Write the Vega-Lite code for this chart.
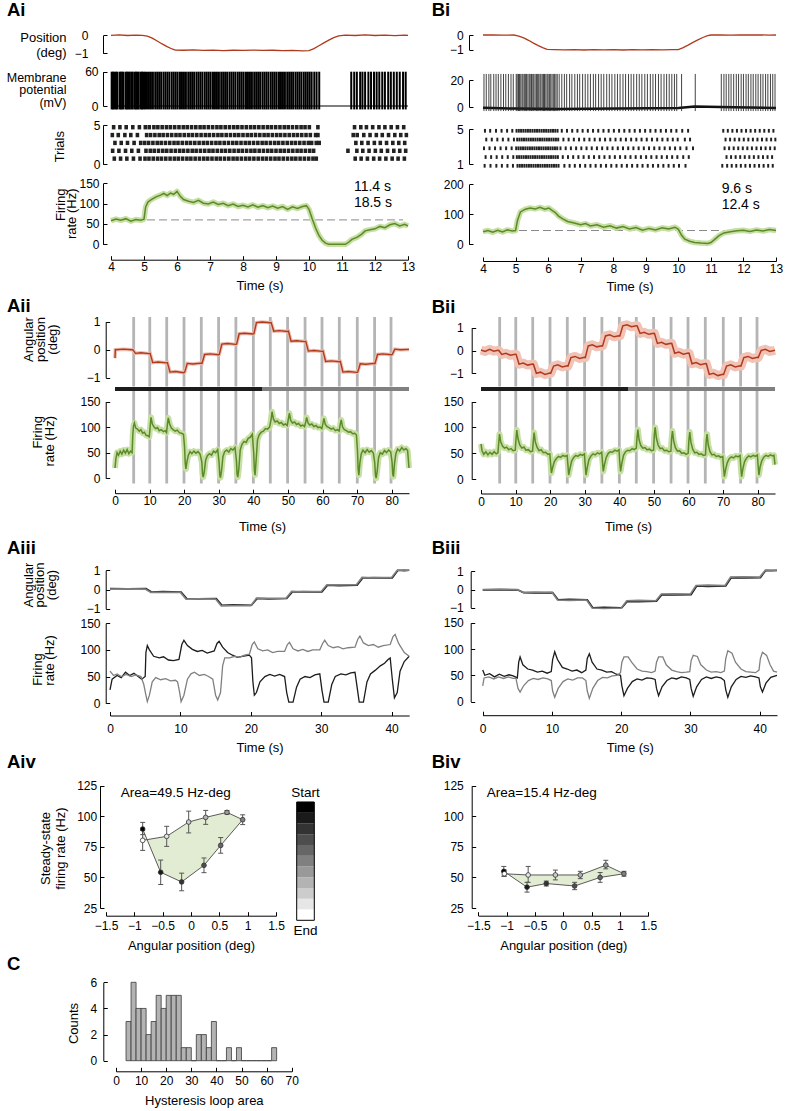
{
"$schema": "https://vega.github.io/schema/vega-lite/v6.json",
"padding": 0,
"background": "white",
"spacing": 0,
"bounds": "full",
"config": {
  "font": "Liberation Sans",
  "view": {"stroke": null},
  "axis": {"grid": false, "domainColor": "#000", "tickColor": "#000", "labelColor": "#000", "titleColor": "#000", "labelFontSize": 12, "titleFontSize": 13, "titleFontWeight": "normal", "tickSize": -4, "labelPadding": 8, "labelOverlap": false, "labelFlush": false, "titlePadding": 8, "tickCount": 12},
  "title": {"fontSize": 18.5, "fontWeight": "bold", "anchor": "start", "frame": "group", "color": "#000", "baseline": "alphabetic"}
},
"datasets": {
  "aipos": [{"t":4,"v":0},{"t":4.25,"v":0.02},{"t":4.5,"v":-0.01},{"t":4.75,"v":0.01},{"t":4.95,"v":0},{"t":5.1,"v":-0.05},{"t":5.25,"v":-0.16},{"t":5.4,"v":-0.32},{"t":5.55,"v":-0.48},{"t":5.7,"v":-0.63},{"t":5.85,"v":-0.76},{"t":5.95,"v":-0.82},{"t":6.2,"v":-0.83},{"t":6.5,"v":-0.81},{"t":6.8,"v":-0.84},{"t":7.1,"v":-0.82},{"t":7.4,"v":-0.85},{"t":7.7,"v":-0.83},{"t":8,"v":-0.84},{"t":8.3,"v":-0.82},{"t":8.6,"v":-0.84},{"t":8.9,"v":-0.83},{"t":9.2,"v":-0.85},{"t":9.5,"v":-0.84},{"t":9.8,"v":-0.87},{"t":10,"v":-0.85},{"t":10.15,"v":-0.74},{"t":10.3,"v":-0.58},{"t":10.45,"v":-0.42},{"t":10.6,"v":-0.27},{"t":10.75,"v":-0.13},{"t":10.9,"v":-0.03},{"t":11.1,"v":0.01},{"t":11.4,"v":-0.01},{"t":11.7,"v":0.02},{"t":12,"v":-0.01},{"t":12.3,"v":0.01},{"t":12.6,"v":-0.02},{"t":12.9,"v":0.01},{"t":13,"v":0}],
  "aibase": [{"t":4,"v":0},{"t":13,"v":0}],
  "aimem": [{"t":4.02},{"t":4.06},{"t":4.1},{"t":4.15},{"t":4.19},{"t":4.26},{"t":4.3},{"t":4.34},{"t":4.38},{"t":4.45},{"t":4.49},{"t":4.53},{"t":4.57},{"t":4.62},{"t":4.66},{"t":4.72},{"t":4.76},{"t":4.8},{"t":4.84},{"t":4.9},{"t":4.94},{"t":4.98},{"t":5.03},{"t":5.09},{"t":5.15},{"t":5.21},{"t":5.27},{"t":5.34},{"t":5.4},{"t":5.46},{"t":5.52},{"t":5.59},{"t":5.65},{"t":5.71},{"t":5.77},{"t":5.84},{"t":5.9},{"t":5.96},{"t":6.02},{"t":6.09},{"t":6.15},{"t":6.21},{"t":6.27},{"t":6.34},{"t":6.4},{"t":6.46},{"t":6.52},{"t":6.59},{"t":6.65},{"t":6.71},{"t":6.77},{"t":6.84},{"t":6.9},{"t":6.96},{"t":7.02},{"t":7.09},{"t":7.15},{"t":7.21},{"t":7.27},{"t":7.34},{"t":7.4},{"t":7.46},{"t":7.52},{"t":7.59},{"t":7.65},{"t":7.71},{"t":7.77},{"t":7.84},{"t":7.9},{"t":7.96},{"t":8.02},{"t":8.09},{"t":8.15},{"t":8.21},{"t":8.27},{"t":8.34},{"t":8.4},{"t":8.46},{"t":8.52},{"t":8.59},{"t":8.65},{"t":8.71},{"t":8.77},{"t":8.84},{"t":8.9},{"t":8.96},{"t":9.02},{"t":9.09},{"t":9.15},{"t":9.21},{"t":9.27},{"t":9.34},{"t":9.4},{"t":9.46},{"t":9.52},{"t":9.59},{"t":9.65},{"t":9.71},{"t":9.77},{"t":9.84},{"t":9.9},{"t":9.96},{"t":10.02},{"t":10.08},{"t":10.16},{"t":10.23},{"t":10.31},{"t":11.28},{"t":11.37},{"t":11.45},{"t":11.55},{"t":11.62},{"t":11.7},{"t":11.8},{"t":11.88},{"t":11.97},{"t":12.05},{"t":12.13},{"t":12.22},{"t":12.3},{"t":12.4},{"t":12.48},{"t":12.57},{"t":12.66},{"t":12.75},{"t":12.85},{"t":12.93}],
  "airas": [
    {"k":5,"t":4.08},{"k":5,"t":4.27},{"k":5,"t":4.46},{"k":5,"t":4.66},{"k":5,"t":4.86},{"k":5,"t":5.04},{"k":5,"t":5.16},{"k":5,"t":5.3},{"k":5,"t":5.42},{"k":5,"t":5.55},{"k":5,"t":5.68},{"k":5,"t":5.8},{"k":5,"t":5.93},{"k":5,"t":6.06},{"k":5,"t":6.19},{"k":5,"t":6.31},{"k":5,"t":6.44},{"k":5,"t":6.57},{"k":5,"t":6.7},{"k":5,"t":6.82},{"k":5,"t":6.95},{"k":5,"t":7.08},{"k":5,"t":7.21},{"k":5,"t":7.33},{"k":5,"t":7.46},{"k":5,"t":7.59},{"k":5,"t":7.72},{"k":5,"t":7.84},{"k":5,"t":7.97},{"k":5,"t":8.1},{"k":5,"t":8.23},{"k":5,"t":8.35},{"k":5,"t":8.48},{"k":5,"t":8.61},{"k":5,"t":8.74},{"k":5,"t":8.86},{"k":5,"t":8.99},{"k":5,"t":9.12},{"k":5,"t":9.25},{"k":5,"t":9.37},{"k":5,"t":9.5},{"k":5,"t":9.63},{"k":5,"t":9.76},{"k":5,"t":9.88},{"k":5,"t":10.01},{"k":5,"t":10.27},{"k":5,"t":11.38},{"k":5,"t":11.57},{"k":5,"t":11.74},{"k":5,"t":11.93},{"k":5,"t":12.12},{"k":5,"t":12.3},{"k":5,"t":12.49},{"k":5,"t":12.68},{"k":5,"t":12.87},
    {"k":4,"t":4.04},{"k":4,"t":4.22},{"k":4,"t":4.42},{"k":4,"t":4.6},{"k":4,"t":4.8},{"k":4,"t":5.08},{"k":4,"t":5.2},{"k":4,"t":5.33},{"k":4,"t":5.46},{"k":4,"t":5.58},{"k":4,"t":5.71},{"k":4,"t":5.84},{"k":4,"t":5.97},{"k":4,"t":6.09},{"k":4,"t":6.22},{"k":4,"t":6.35},{"k":4,"t":6.47},{"k":4,"t":6.6},{"k":4,"t":6.73},{"k":4,"t":6.86},{"k":4,"t":6.98},{"k":4,"t":7.11},{"k":4,"t":7.24},{"k":4,"t":7.36},{"k":4,"t":7.49},{"k":4,"t":7.62},{"k":4,"t":7.75},{"k":4,"t":7.87},{"k":4,"t":8},{"k":4,"t":8.13},{"k":4,"t":8.25},{"k":4,"t":8.38},{"k":4,"t":8.51},{"k":4,"t":8.64},{"k":4,"t":8.76},{"k":4,"t":8.89},{"k":4,"t":9.02},{"k":4,"t":9.14},{"k":4,"t":9.27},{"k":4,"t":9.4},{"k":4,"t":9.53},{"k":4,"t":9.65},{"k":4,"t":9.78},{"k":4,"t":9.91},{"k":4,"t":10.04},{"k":4,"t":10.2},{"k":4,"t":10.27},{"k":4,"t":11.34},{"k":4,"t":11.46},{"k":4,"t":11.66},{"k":4,"t":11.85},{"k":4,"t":12.04},{"k":4,"t":12.22},{"k":4,"t":12.41},{"k":4,"t":12.6},{"k":4,"t":12.78},{"k":4,"t":12.95},
    {"k":3,"t":4.12},{"k":3,"t":4.31},{"k":3,"t":4.5},{"k":3,"t":4.7},{"k":3,"t":4.9},{"k":3,"t":5.02},{"k":3,"t":5.14},{"k":3,"t":5.27},{"k":3,"t":5.4},{"k":3,"t":5.52},{"k":3,"t":5.65},{"k":3,"t":5.78},{"k":3,"t":5.91},{"k":3,"t":6.03},{"k":3,"t":6.16},{"k":3,"t":6.29},{"k":3,"t":6.41},{"k":3,"t":6.54},{"k":3,"t":6.67},{"k":3,"t":6.8},{"k":3,"t":6.92},{"k":3,"t":7.05},{"k":3,"t":7.18},{"k":3,"t":7.3},{"k":3,"t":7.43},{"k":3,"t":7.56},{"k":3,"t":7.69},{"k":3,"t":7.81},{"k":3,"t":7.94},{"k":3,"t":8.07},{"k":3,"t":8.19},{"k":3,"t":8.32},{"k":3,"t":8.45},{"k":3,"t":8.58},{"k":3,"t":8.7},{"k":3,"t":8.83},{"k":3,"t":8.96},{"k":3,"t":9.08},{"k":3,"t":9.21},{"k":3,"t":9.34},{"k":3,"t":9.47},{"k":3,"t":9.59},{"k":3,"t":9.72},{"k":3,"t":9.85},{"k":3,"t":9.98},{"k":3,"t":10.08},{"k":3,"t":10.22},{"k":3,"t":10.31},{"k":3,"t":11.42},{"k":3,"t":11.6},{"k":3,"t":11.79},{"k":3,"t":11.98},{"k":3,"t":12.16},{"k":3,"t":12.35},{"k":3,"t":12.54},{"k":3,"t":12.72},{"k":3,"t":12.9},
    {"k":2,"t":4.05},{"k":2,"t":4.24},{"k":2,"t":4.44},{"k":2,"t":4.63},{"k":2,"t":4.83},{"k":2,"t":5.06},{"k":2,"t":5.19},{"k":2,"t":5.31},{"k":2,"t":5.44},{"k":2,"t":5.57},{"k":2,"t":5.69},{"k":2,"t":5.82},{"k":2,"t":5.95},{"k":2,"t":6.08},{"k":2,"t":6.2},{"k":2,"t":6.33},{"k":2,"t":6.46},{"k":2,"t":6.58},{"k":2,"t":6.71},{"k":2,"t":6.84},{"k":2,"t":6.97},{"k":2,"t":7.09},{"k":2,"t":7.22},{"k":2,"t":7.35},{"k":2,"t":7.47},{"k":2,"t":7.6},{"k":2,"t":7.73},{"k":2,"t":7.86},{"k":2,"t":7.98},{"k":2,"t":8.11},{"k":2,"t":8.24},{"k":2,"t":8.36},{"k":2,"t":8.49},{"k":2,"t":8.62},{"k":2,"t":8.75},{"k":2,"t":8.87},{"k":2,"t":9},{"k":2,"t":9.13},{"k":2,"t":9.25},{"k":2,"t":9.38},{"k":2,"t":9.51},{"k":2,"t":9.64},{"k":2,"t":9.76},{"k":2,"t":9.89},{"k":2,"t":10.02},{"k":2,"t":10.14},{"k":2,"t":11.18},{"k":2,"t":11.45},{"k":2,"t":11.63},{"k":2,"t":11.82},{"k":2,"t":12.01},{"k":2,"t":12.19},{"k":2,"t":12.38},{"k":2,"t":12.57},{"k":2,"t":12.75},{"k":2,"t":12.93},
    {"k":1,"t":4.1},{"k":1,"t":4.29},{"k":1,"t":4.48},{"k":1,"t":4.68},{"k":1,"t":4.88},{"k":1,"t":5.03},{"k":1,"t":5.15},{"k":1,"t":5.28},{"k":1,"t":5.41},{"k":1,"t":5.53},{"k":1,"t":5.66},{"k":1,"t":5.79},{"k":1,"t":5.92},{"k":1,"t":6.04},{"k":1,"t":6.17},{"k":1,"t":6.3},{"k":1,"t":6.42},{"k":1,"t":6.55},{"k":1,"t":6.68},{"k":1,"t":6.81},{"k":1,"t":6.93},{"k":1,"t":7.06},{"k":1,"t":7.19},{"k":1,"t":7.31},{"k":1,"t":7.44},{"k":1,"t":7.57},{"k":1,"t":7.7},{"k":1,"t":7.82},{"k":1,"t":7.95},{"k":1,"t":8.08},{"k":1,"t":8.2},{"k":1,"t":8.33},{"k":1,"t":8.46},{"k":1,"t":8.59},{"k":1,"t":8.71},{"k":1,"t":8.84},{"k":1,"t":8.97},{"k":1,"t":9.09},{"k":1,"t":9.22},{"k":1,"t":9.35},{"k":1,"t":9.48},{"k":1,"t":9.6},{"k":1,"t":9.73},{"k":1,"t":9.86},{"k":1,"t":9.99},{"k":1,"t":10.12},{"k":1,"t":10.22},{"k":1,"t":11.4},{"k":1,"t":11.58},{"k":1,"t":11.77},{"k":1,"t":11.96},{"k":1,"t":12.14},{"k":1,"t":12.33},{"k":1,"t":12.52},{"k":1,"t":12.7},{"k":1,"t":12.89}],
  "aifr": [{"t":4,"v":58},{"t":4.15,"v":62},{"t":4.3,"v":59},{"t":4.45,"v":63},{"t":4.6,"v":57},{"t":4.75,"v":61},{"t":4.9,"v":59},{"t":5,"v":62},{"t":5.05,"v":92},{"t":5.12,"v":104},{"t":5.22,"v":110},{"t":5.35,"v":116},{"t":5.5,"v":121},{"t":5.6,"v":125},{"t":5.7,"v":120},{"t":5.8,"v":126},{"t":5.9,"v":123},{"t":6,"v":130},{"t":6.1,"v":118},{"t":6.2,"v":110},{"t":6.35,"v":106},{"t":6.5,"v":103},{"t":6.65,"v":108},{"t":6.8,"v":101},{"t":6.95,"v":99},{"t":7.1,"v":104},{"t":7.25,"v":98},{"t":7.4,"v":101},{"t":7.55,"v":95},{"t":7.7,"v":99},{"t":7.85,"v":93},{"t":8,"v":96},{"t":8.15,"v":92},{"t":8.3,"v":97},{"t":8.45,"v":91},{"t":8.6,"v":95},{"t":8.75,"v":90},{"t":8.9,"v":94},{"t":9.05,"v":89},{"t":9.2,"v":93},{"t":9.35,"v":86},{"t":9.5,"v":92},{"t":9.65,"v":88},{"t":9.8,"v":93},{"t":9.92,"v":95},{"t":10,"v":86},{"t":10.1,"v":62},{"t":10.2,"v":40},{"t":10.3,"v":22},{"t":10.4,"v":10},{"t":10.5,"v":3},{"t":10.6,"v":0},{"t":11.1,"v":0},{"t":11.2,"v":5},{"t":11.3,"v":12},{"t":11.45,"v":17},{"t":11.6,"v":25},{"t":11.7,"v":33},{"t":11.85,"v":36},{"t":12,"v":38},{"t":12.15,"v":44},{"t":12.3,"v":41},{"t":12.45,"v":48},{"t":12.6,"v":51},{"t":12.75,"v":45},{"t":12.9,"v":49},{"t":13,"v":45}],
  "bipos": [{"t":4,"v":0},{"t":4.3,"v":0.01},{"t":4.6,"v":-0.01},{"t":4.95,"v":0},{"t":5.1,"v":-0.07},{"t":5.25,"v":-0.2},{"t":5.4,"v":-0.36},{"t":5.55,"v":-0.55},{"t":5.7,"v":-0.72},{"t":5.85,"v":-0.88},{"t":5.97,"v":-0.98},{"t":6.2,"v":-0.99},{"t":6.5,"v":-1.01},{"t":6.8,"v":-0.99},{"t":7.1,"v":-1.02},{"t":7.4,"v":-1},{"t":7.7,"v":-1.01},{"t":8,"v":-0.99},{"t":8.3,"v":-1.02},{"t":8.6,"v":-1},{"t":8.9,"v":-1.01},{"t":9.2,"v":-0.99},{"t":9.5,"v":-1.01},{"t":9.8,"v":-1},{"t":10,"v":-0.99},{"t":10.15,"v":-0.86},{"t":10.3,"v":-0.69},{"t":10.45,"v":-0.5},{"t":10.6,"v":-0.33},{"t":10.75,"v":-0.17},{"t":10.9,"v":-0.05},{"t":11,"v":0},{"t":11.3,"v":0.01},{"t":11.6,"v":-0.01},{"t":11.9,"v":0.01},{"t":12.2,"v":0},{"t":12.5,"v":0.01},{"t":12.8,"v":-0.01},{"t":13,"v":0}],
  "bibase": [{"t":4,"v":-0.5},{"t":5,"v":-1.2},{"t":6.3,"v":-1.5},{"t":10,"v":-0.8},{"t":10.5,"v":0.3},{"t":11.3,"v":0},{"t":13,"v":-0.8}],
  "bimem": [{"t":4.03},{"t":4.1},{"t":4.18},{"t":4.24},{"t":4.33},{"t":4.4},{"t":4.47},{"t":4.55},{"t":4.63},{"t":4.7},{"t":4.78},{"t":4.86},{"t":4.93},{"t":5.02},{"t":5.05},{"t":5.09},{"t":5.12},{"t":5.16},{"t":5.2},{"t":5.23},{"t":5.27},{"t":5.31},{"t":5.34},{"t":5.38},{"t":5.42},{"t":5.45},{"t":5.49},{"t":5.53},{"t":5.56},{"t":5.6},{"t":5.64},{"t":5.67},{"t":5.71},{"t":5.75},{"t":5.78},{"t":5.82},{"t":5.86},{"t":5.89},{"t":5.93},{"t":5.97},{"t":6},{"t":6.04},{"t":6.08},{"t":6.12},{"t":6.16},{"t":6.2},{"t":6.24},{"t":6.28},{"t":6.34},{"t":6.42},{"t":6.5},{"t":6.57},{"t":6.66},{"t":6.73},{"t":6.82},{"t":6.9},{"t":6.97},{"t":7.06},{"t":7.14},{"t":7.22},{"t":7.3},{"t":7.39},{"t":7.46},{"t":7.55},{"t":7.63},{"t":7.71},{"t":7.8},{"t":7.88},{"t":7.96},{"t":8.05},{"t":8.13},{"t":8.21},{"t":8.3},{"t":8.38},{"t":8.47},{"t":8.55},{"t":8.63},{"t":8.72},{"t":8.8},{"t":8.88},{"t":8.97},{"t":9.05},{"t":9.14},{"t":9.22},{"t":9.3},{"t":9.39},{"t":9.47},{"t":9.56},{"t":9.64},{"t":9.72},{"t":9.8},{"t":9.88},{"t":9.95},{"t":10.1},{"t":10.52},{"t":11.32},{"t":11.4},{"t":11.47},{"t":11.55},{"t":11.62},{"t":11.7},{"t":11.78},{"t":11.85},{"t":11.93},{"t":12},{"t":12.08},{"t":12.15},{"t":12.23},{"t":12.3},{"t":12.38},{"t":12.45},{"t":12.53},{"t":12.6},{"t":12.68},{"t":12.75},{"t":12.83},{"t":12.9},{"t":12.97}],
  "biras": [
    {"k":5,"t":4.06},{"k":5,"t":4.22},{"k":5,"t":4.4},{"k":5,"t":4.57},{"k":5,"t":4.74},{"k":5,"t":4.9},{"k":5,"t":5.03},{"k":5,"t":5.1},{"k":5,"t":5.17},{"k":5,"t":5.24},{"k":5,"t":5.31},{"k":5,"t":5.38},{"k":5,"t":5.45},{"k":5,"t":5.52},{"k":5,"t":5.59},{"k":5,"t":5.66},{"k":5,"t":5.73},{"k":5,"t":5.8},{"k":5,"t":5.87},{"k":5,"t":5.94},{"k":5,"t":6.01},{"k":5,"t":6.08},{"k":5,"t":6.15},{"k":5,"t":6.22},{"k":5,"t":6.29},{"k":5,"t":6.42},{"k":5,"t":6.58},{"k":5,"t":6.74},{"k":5,"t":6.9},{"k":5,"t":7.06},{"k":5,"t":7.22},{"k":5,"t":7.38},{"k":5,"t":7.54},{"k":5,"t":7.7},{"k":5,"t":7.86},{"k":5,"t":8.02},{"k":5,"t":8.18},{"k":5,"t":8.34},{"k":5,"t":8.5},{"k":5,"t":8.66},{"k":5,"t":8.82},{"k":5,"t":8.98},{"k":5,"t":9.14},{"k":5,"t":9.3},{"k":5,"t":9.46},{"k":5,"t":9.62},{"k":5,"t":9.78},{"k":5,"t":9.94},{"k":5,"t":10.12},{"k":5,"t":10.3},{"k":5,"t":11.38},{"k":5,"t":11.52},{"k":5,"t":11.66},{"k":5,"t":11.8},{"k":5,"t":11.94},{"k":5,"t":12.08},{"k":5,"t":12.22},{"k":5,"t":12.36},{"k":5,"t":12.5},{"k":5,"t":12.64},{"k":5,"t":12.78},{"k":5,"t":12.92},
    {"k":4,"t":4.1},{"k":4,"t":4.27},{"k":4,"t":4.44},{"k":4,"t":4.61},{"k":4,"t":4.78},{"k":4,"t":4.95},{"k":4,"t":5.05},{"k":4,"t":5.12},{"k":4,"t":5.19},{"k":4,"t":5.26},{"k":4,"t":5.33},{"k":4,"t":5.4},{"k":4,"t":5.47},{"k":4,"t":5.54},{"k":4,"t":5.61},{"k":4,"t":5.68},{"k":4,"t":5.75},{"k":4,"t":5.82},{"k":4,"t":5.89},{"k":4,"t":5.96},{"k":4,"t":6.03},{"k":4,"t":6.1},{"k":4,"t":6.17},{"k":4,"t":6.24},{"k":4,"t":6.31},{"k":4,"t":6.47},{"k":4,"t":6.63},{"k":4,"t":6.79},{"k":4,"t":6.95},{"k":4,"t":7.11},{"k":4,"t":7.27},{"k":4,"t":7.43},{"k":4,"t":7.59},{"k":4,"t":7.75},{"k":4,"t":7.91},{"k":4,"t":8.07},{"k":4,"t":8.23},{"k":4,"t":8.39},{"k":4,"t":8.55},{"k":4,"t":8.71},{"k":4,"t":8.87},{"k":4,"t":9.03},{"k":4,"t":9.19},{"k":4,"t":9.35},{"k":4,"t":9.51},{"k":4,"t":9.67},{"k":4,"t":9.83},{"k":4,"t":9.98},{"k":4,"t":10.2},{"k":4,"t":10.36},{"k":4,"t":11.45},{"k":4,"t":11.59},{"k":4,"t":11.73},{"k":4,"t":11.87},{"k":4,"t":12.01},{"k":4,"t":12.15},{"k":4,"t":12.29},{"k":4,"t":12.43},{"k":4,"t":12.57},{"k":4,"t":12.71},{"k":4,"t":12.85},{"k":4,"t":12.98},
    {"k":3,"t":4.03},{"k":3,"t":4.2},{"k":3,"t":4.37},{"k":3,"t":4.54},{"k":3,"t":4.71},{"k":3,"t":4.88},{"k":3,"t":5.02},{"k":3,"t":5.09},{"k":3,"t":5.16},{"k":3,"t":5.23},{"k":3,"t":5.3},{"k":3,"t":5.37},{"k":3,"t":5.44},{"k":3,"t":5.51},{"k":3,"t":5.58},{"k":3,"t":5.65},{"k":3,"t":5.72},{"k":3,"t":5.79},{"k":3,"t":5.86},{"k":3,"t":5.93},{"k":3,"t":6},{"k":3,"t":6.07},{"k":3,"t":6.14},{"k":3,"t":6.21},{"k":3,"t":6.28},{"k":3,"t":6.38},{"k":3,"t":6.54},{"k":3,"t":6.7},{"k":3,"t":6.86},{"k":3,"t":7.02},{"k":3,"t":7.18},{"k":3,"t":7.34},{"k":3,"t":7.5},{"k":3,"t":7.66},{"k":3,"t":7.82},{"k":3,"t":7.98},{"k":3,"t":8.14},{"k":3,"t":8.3},{"k":3,"t":8.46},{"k":3,"t":8.62},{"k":3,"t":8.78},{"k":3,"t":8.94},{"k":3,"t":9.1},{"k":3,"t":9.26},{"k":3,"t":9.42},{"k":3,"t":9.58},{"k":3,"t":9.74},{"k":3,"t":9.9},{"k":3,"t":10.06},{"k":3,"t":10.25},{"k":3,"t":10.45},{"k":3,"t":11.42},{"k":3,"t":11.56},{"k":3,"t":11.7},{"k":3,"t":11.84},{"k":3,"t":11.98},{"k":3,"t":12.12},{"k":3,"t":12.26},{"k":3,"t":12.4},{"k":3,"t":12.54},{"k":3,"t":12.68},{"k":3,"t":12.82},{"k":3,"t":12.96},
    {"k":2,"t":4.08},{"k":2,"t":4.25},{"k":2,"t":4.42},{"k":2,"t":4.59},{"k":2,"t":4.76},{"k":2,"t":4.93},{"k":2,"t":5.04},{"k":2,"t":5.11},{"k":2,"t":5.18},{"k":2,"t":5.25},{"k":2,"t":5.32},{"k":2,"t":5.39},{"k":2,"t":5.46},{"k":2,"t":5.53},{"k":2,"t":5.6},{"k":2,"t":5.67},{"k":2,"t":5.74},{"k":2,"t":5.81},{"k":2,"t":5.88},{"k":2,"t":5.95},{"k":2,"t":6.02},{"k":2,"t":6.09},{"k":2,"t":6.16},{"k":2,"t":6.23},{"k":2,"t":6.3},{"k":2,"t":6.45},{"k":2,"t":6.61},{"k":2,"t":6.77},{"k":2,"t":6.93},{"k":2,"t":7.09},{"k":2,"t":7.25},{"k":2,"t":7.41},{"k":2,"t":7.57},{"k":2,"t":7.73},{"k":2,"t":7.89},{"k":2,"t":8.05},{"k":2,"t":8.21},{"k":2,"t":8.37},{"k":2,"t":8.53},{"k":2,"t":8.69},{"k":2,"t":8.85},{"k":2,"t":9.01},{"k":2,"t":9.17},{"k":2,"t":9.33},{"k":2,"t":9.49},{"k":2,"t":9.65},{"k":2,"t":9.81},{"k":2,"t":9.97},{"k":2,"t":10.15},{"k":2,"t":10.32},{"k":2,"t":11.48},{"k":2,"t":11.62},{"k":2,"t":11.76},{"k":2,"t":11.9},{"k":2,"t":12.04},{"k":2,"t":12.18},{"k":2,"t":12.32},{"k":2,"t":12.46},{"k":2,"t":12.6},{"k":2,"t":12.74},{"k":2,"t":12.88},
    {"k":1,"t":4.05},{"k":1,"t":4.23},{"k":1,"t":4.41},{"k":1,"t":4.58},{"k":1,"t":4.75},{"k":1,"t":4.92},{"k":1,"t":5.06},{"k":1,"t":5.13},{"k":1,"t":5.2},{"k":1,"t":5.27},{"k":1,"t":5.34},{"k":1,"t":5.41},{"k":1,"t":5.48},{"k":1,"t":5.55},{"k":1,"t":5.62},{"k":1,"t":5.69},{"k":1,"t":5.76},{"k":1,"t":5.83},{"k":1,"t":5.9},{"k":1,"t":5.97},{"k":1,"t":6.04},{"k":1,"t":6.11},{"k":1,"t":6.18},{"k":1,"t":6.25},{"k":1,"t":6.32},{"k":1,"t":6.5},{"k":1,"t":6.66},{"k":1,"t":6.82},{"k":1,"t":6.98},{"k":1,"t":7.14},{"k":1,"t":7.3},{"k":1,"t":7.46},{"k":1,"t":7.62},{"k":1,"t":7.78},{"k":1,"t":7.94},{"k":1,"t":8.1},{"k":1,"t":8.26},{"k":1,"t":8.42},{"k":1,"t":8.58},{"k":1,"t":8.74},{"k":1,"t":8.9},{"k":1,"t":9.06},{"k":1,"t":9.22},{"k":1,"t":9.38},{"k":1,"t":9.54},{"k":1,"t":9.7},{"k":1,"t":9.86},{"k":1,"t":10.02},{"k":1,"t":10.22},{"k":1,"t":11.35},{"k":1,"t":11.5},{"k":1,"t":11.64},{"k":1,"t":11.78},{"k":1,"t":11.92},{"k":1,"t":12.06},{"k":1,"t":12.2},{"k":1,"t":12.34},{"k":1,"t":12.48},{"k":1,"t":12.62},{"k":1,"t":12.76},{"k":1,"t":12.9}],
  "bifr": [{"t":4,"v":42},{"t":4.15,"v":46},{"t":4.3,"v":40},{"t":4.45,"v":47},{"t":4.6,"v":41},{"t":4.75,"v":48},{"t":4.9,"v":44},{"t":5,"v":46},{"t":5.06,"v":80},{"t":5.15,"v":108},{"t":5.3,"v":117},{"t":5.45,"v":121},{"t":5.6,"v":118},{"t":5.75,"v":123},{"t":5.9,"v":117},{"t":6.02,"v":121},{"t":6.12,"v":113},{"t":6.22,"v":106},{"t":6.32,"v":94},{"t":6.45,"v":85},{"t":6.6,"v":76},{"t":6.8,"v":71},{"t":7,"v":65},{"t":7.15,"v":69},{"t":7.3,"v":61},{"t":7.5,"v":65},{"t":7.7,"v":57},{"t":7.9,"v":62},{"t":8.1,"v":54},{"t":8.3,"v":59},{"t":8.5,"v":51},{"t":8.7,"v":56},{"t":8.9,"v":47},{"t":9.1,"v":53},{"t":9.3,"v":48},{"t":9.5,"v":55},{"t":9.7,"v":51},{"t":9.9,"v":57},{"t":10,"v":50},{"t":10.1,"v":30},{"t":10.2,"v":17},{"t":10.35,"v":10},{"t":10.5,"v":6},{"t":10.7,"v":4},{"t":10.9,"v":3},{"t":11,"v":6},{"t":11.1,"v":15},{"t":11.25,"v":29},{"t":11.4,"v":38},{"t":11.6,"v":42},{"t":11.8,"v":45},{"t":12,"v":47},{"t":12.2,"v":43},{"t":12.4,"v":48},{"t":12.6,"v":44},{"t":12.8,"v":49},{"t":13,"v":46}],
  "stim": [{"t":5.4},{"t":10.05},{"t":14.95},{"t":19.95},{"t":24.95},{"t":29.95},{"t":34.95},{"t":40},{"t":44.9},{"t":49.9},{"t":54.95},{"t":59.85},{"t":64.85},{"t":70.05},{"t":75.05},{"t":79.8}],
  "sweep": [{"t0":0,"t1":42.5,"s":"first"},{"t0":42.5,"t1":85,"s":"second"}],
  "aiipos": [{"t":0,"v":-0.3},{"t":0.1,"v":0},{"t":2.5,"v":0.02},{"t":4.9,"v":0},{"t":5.15,"v":0},{"t":5.9,"v":-0.13},{"t":7.5,"v":-0.11},{"t":9.9,"v":-0.14},{"t":10.15,"v":-0.13},{"t":10.9,"v":-0.46},{"t":12.5,"v":-0.44},{"t":14.9,"v":-0.47},{"t":15.15,"v":-0.46},{"t":15.9,"v":-0.8},{"t":17.5,"v":-0.78},{"t":19.9,"v":-0.82},{"t":20.15,"v":-0.8},{"t":20.9,"v":-0.49},{"t":22.5,"v":-0.51},{"t":24.9,"v":-0.48},{"t":25.15,"v":-0.49},{"t":25.9,"v":-0.17},{"t":27.5,"v":-0.15},{"t":29.9,"v":-0.18},{"t":30.15,"v":-0.17},{"t":30.9,"v":0.2},{"t":32.5,"v":0.22},{"t":34.9,"v":0.19},{"t":35.15,"v":0.2},{"t":35.9,"v":0.57},{"t":37.5,"v":0.59},{"t":39.9,"v":0.56},{"t":40.15,"v":0.57},{"t":40.9,"v":0.97},{"t":42.5,"v":0.99},{"t":44.9,"v":0.96},{"t":45.15,"v":0.97},{"t":45.9,"v":0.66},{"t":47.5,"v":0.68},{"t":49.9,"v":0.65},{"t":50.15,"v":0.66},{"t":50.9,"v":0.3},{"t":52.5,"v":0.32},{"t":54.9,"v":0.29},{"t":55.15,"v":0.3},{"t":55.9,"v":-0.05},{"t":57.5,"v":-0.03},{"t":59.9,"v":-0.06},{"t":60.15,"v":-0.05},{"t":60.9,"v":-0.42},{"t":62.5,"v":-0.4},{"t":64.9,"v":-0.43},{"t":65.15,"v":-0.42},{"t":65.9,"v":-0.8},{"t":67.5,"v":-0.78},{"t":69.9,"v":-0.81},{"t":70.15,"v":-0.8},{"t":70.9,"v":-0.5},{"t":72.5,"v":-0.52},{"t":74.9,"v":-0.49},{"t":75.15,"v":-0.5},{"t":75.9,"v":-0.17},{"t":77.5,"v":-0.15},{"t":79.9,"v":-0.18},{"t":80.15,"v":-0.17},{"t":80.9,"v":0.02},{"t":82.5,"v":0},{"t":85,"v":0.01}],
  "aiifr": [{"t":0,"v":20},{"t":0.25,"v":38},{"t":0.6,"v":50},{"t":1,"v":45},{"t":1.5,"v":53},{"t":2,"v":47},{"t":2.5,"v":55},{"t":3,"v":49},{"t":3.5,"v":56},{"t":4,"v":48},{"t":4.5,"v":53},{"t":4.95,"v":50},{"t":5.15,"v":85},{"t":5.35,"v":102},{"t":5.6,"v":108},{"t":6,"v":98},{"t":6.5,"v":96},{"t":7,"v":92},{"t":7.5,"v":95},{"t":8,"v":88},{"t":8.5,"v":90},{"t":9,"v":84},{"t":9.5,"v":83},{"t":9.9,"v":81},{"t":10.15,"v":100},{"t":10.4,"v":119},{"t":10.8,"v":106},{"t":11.3,"v":100},{"t":11.8,"v":97},{"t":12.3,"v":99},{"t":12.8,"v":93},{"t":13.4,"v":95},{"t":14,"v":91},{"t":14.5,"v":93},{"t":14.9,"v":89},{"t":15.15,"v":105},{"t":15.4,"v":118},{"t":15.8,"v":106},{"t":16.3,"v":98},{"t":16.8,"v":95},{"t":17.4,"v":92},{"t":18,"v":94},{"t":18.6,"v":89},{"t":19.2,"v":88},{"t":19.8,"v":86},{"t":20.1,"v":62},{"t":20.3,"v":30},{"t":20.5,"v":18},{"t":20.8,"v":32},{"t":21.2,"v":45},{"t":21.7,"v":52},{"t":22.2,"v":48},{"t":22.8,"v":53},{"t":23.4,"v":49},{"t":24,"v":52},{"t":24.6,"v":47},{"t":25.1,"v":32},{"t":25.3,"v":8},{"t":25.5,"v":2},{"t":25.8,"v":12},{"t":26.2,"v":35},{"t":26.7,"v":44},{"t":27.3,"v":48},{"t":27.9,"v":45},{"t":28.5,"v":53},{"t":29.1,"v":50},{"t":29.7,"v":56},{"t":30.1,"v":30},{"t":30.3,"v":6},{"t":30.5,"v":1},{"t":30.8,"v":15},{"t":31.2,"v":42},{"t":31.7,"v":52},{"t":32.3,"v":55},{"t":32.9,"v":51},{"t":33.5,"v":58},{"t":34.1,"v":55},{"t":34.7,"v":60},{"t":35.1,"v":35},{"t":35.3,"v":8},{"t":35.5,"v":2},{"t":35.8,"v":18},{"t":36.2,"v":55},{"t":36.7,"v":66},{"t":37.3,"v":72},{"t":37.9,"v":70},{"t":38.5,"v":78},{"t":39.1,"v":80},{"t":39.7,"v":86},{"t":40.1,"v":50},{"t":40.3,"v":15},{"t":40.5,"v":6},{"t":40.8,"v":35},{"t":41.2,"v":75},{"t":41.7,"v":85},{"t":42.3,"v":90},{"t":42.9,"v":92},{"t":43.5,"v":97},{"t":44.1,"v":96},{"t":44.7,"v":100},{"t":45.15,"v":116},{"t":45.4,"v":130},{"t":45.8,"v":116},{"t":46.3,"v":110},{"t":46.9,"v":112},{"t":47.5,"v":107},{"t":48.1,"v":109},{"t":48.7,"v":104},{"t":49.3,"v":106},{"t":49.8,"v":103},{"t":50.15,"v":117},{"t":50.4,"v":127},{"t":50.8,"v":113},{"t":51.3,"v":108},{"t":51.9,"v":110},{"t":52.5,"v":105},{"t":53.1,"v":107},{"t":53.7,"v":102},{"t":54.3,"v":104},{"t":54.8,"v":101},{"t":55.15,"v":110},{"t":55.4,"v":119},{"t":55.8,"v":108},{"t":56.3,"v":104},{"t":56.9,"v":106},{"t":57.5,"v":101},{"t":58.1,"v":103},{"t":58.7,"v":99},{"t":59.3,"v":100},{"t":59.8,"v":97},{"t":60.15,"v":108},{"t":60.4,"v":117},{"t":60.8,"v":105},{"t":61.3,"v":101},{"t":61.9,"v":99},{"t":62.5,"v":96},{"t":63.1,"v":98},{"t":63.7,"v":93},{"t":64.3,"v":95},{"t":64.8,"v":92},{"t":65.15,"v":106},{"t":65.4,"v":114},{"t":65.8,"v":100},{"t":66.3,"v":95},{"t":66.9,"v":93},{"t":67.5,"v":90},{"t":68.1,"v":91},{"t":68.7,"v":87},{"t":69.3,"v":88},{"t":69.8,"v":85},{"t":70.1,"v":55},{"t":70.3,"v":18},{"t":70.5,"v":6},{"t":70.8,"v":30},{"t":71.2,"v":48},{"t":71.7,"v":55},{"t":72.3,"v":50},{"t":72.9,"v":56},{"t":73.5,"v":51},{"t":74.1,"v":54},{"t":74.7,"v":49},{"t":75.1,"v":30},{"t":75.3,"v":6},{"t":75.5,"v":0},{"t":75.8,"v":14},{"t":76.2,"v":40},{"t":76.7,"v":50},{"t":77.3,"v":47},{"t":77.9,"v":54},{"t":78.5,"v":50},{"t":79.1,"v":55},{"t":79.7,"v":52},{"t":80.1,"v":32},{"t":80.3,"v":8},{"t":80.5,"v":3},{"t":80.8,"v":28},{"t":81.2,"v":48},{"t":81.7,"v":57},{"t":82.3,"v":53},{"t":82.9,"v":60},{"t":83.5,"v":55},{"t":84.1,"v":58},{"t":84.6,"v":54},{"t":85,"v":20}],
  "biipos": [{"t":0,"v":0.02},{"t":1.2,"v":-0.04},{"t":2.5,"v":0.05},{"t":3.7,"v":-0.03},{"t":4.9,"v":0.01},{"t":5.15,"v":0},{"t":6,"v":-0.17},{"t":7.2,"v":-0.12},{"t":8.5,"v":-0.21},{"t":9.9,"v":-0.16},{"t":10.15,"v":-0.17},{"t":11,"v":-0.6},{"t":12.2,"v":-0.55},{"t":13.5,"v":-0.64},{"t":14.9,"v":-0.59},{"t":15.15,"v":-0.6},{"t":16,"v":-1},{"t":17.2,"v":-0.95},{"t":18.5,"v":-1.05},{"t":19.9,"v":-0.99},{"t":20.15,"v":-1},{"t":21,"v":-0.68},{"t":22.2,"v":-0.63},{"t":23.5,"v":-0.72},{"t":24.9,"v":-0.67},{"t":25.15,"v":-0.68},{"t":26,"v":-0.31},{"t":27.2,"v":-0.26},{"t":28.5,"v":-0.35},{"t":29.9,"v":-0.3},{"t":30.15,"v":-0.31},{"t":31,"v":0.2},{"t":32.2,"v":0.25},{"t":33.5,"v":0.16},{"t":34.9,"v":0.21},{"t":35.15,"v":0.2},{"t":36,"v":0.64},{"t":37.2,"v":0.69},{"t":38.5,"v":0.6},{"t":39.9,"v":0.65},{"t":40.15,"v":0.64},{"t":41,"v":1.08},{"t":42.2,"v":1.13},{"t":43.5,"v":1.04},{"t":44.9,"v":1.09},{"t":45.15,"v":1.08},{"t":46,"v":0.75},{"t":47.2,"v":0.8},{"t":48.5,"v":0.71},{"t":49.9,"v":0.76},{"t":50.15,"v":0.75},{"t":51,"v":0.31},{"t":52.2,"v":0.36},{"t":53.5,"v":0.27},{"t":54.9,"v":0.32},{"t":55.15,"v":0.31},{"t":56,"v":-0.12},{"t":57.2,"v":-0.07},{"t":58.5,"v":-0.16},{"t":59.9,"v":-0.11},{"t":60.15,"v":-0.12},{"t":61,"v":-0.58},{"t":62.2,"v":-0.53},{"t":63.5,"v":-0.62},{"t":64.9,"v":-0.57},{"t":65.15,"v":-0.58},{"t":66,"v":-1.05},{"t":67.2,"v":-1},{"t":68.5,"v":-1.1},{"t":69.9,"v":-1.04},{"t":70.15,"v":-1.05},{"t":71,"v":-0.68},{"t":72.2,"v":-0.63},{"t":73.5,"v":-0.72},{"t":74.9,"v":-0.67},{"t":75.15,"v":-0.68},{"t":76,"v":-0.31},{"t":77.2,"v":-0.26},{"t":78.5,"v":-0.35},{"t":79.9,"v":-0.3},{"t":80.15,"v":-0.31},{"t":81,"v":0},{"t":82.2,"v":0.05},{"t":83.5,"v":-0.04},{"t":85,"v":0.01}],
  "biifr": [{"t":0,"v":68},{"t":0.3,"v":55},{"t":0.8,"v":48},{"t":1.4,"v":53},{"t":2,"v":47},{"t":2.6,"v":52},{"t":3.2,"v":48},{"t":3.8,"v":53},{"t":4.4,"v":49},{"t":4.9,"v":51},{"t":5.1,"v":68},{"t":5.35,"v":87},{"t":5.7,"v":72},{"t":6.2,"v":64},{"t":6.8,"v":60},{"t":7.4,"v":62},{"t":8,"v":57},{"t":8.7,"v":59},{"t":9.3,"v":55},{"t":9.9,"v":56},{"t":10.1,"v":75},{"t":10.35,"v":95},{"t":10.7,"v":78},{"t":11.2,"v":66},{"t":11.8,"v":60},{"t":12.4,"v":62},{"t":13,"v":56},{"t":13.7,"v":57},{"t":14.3,"v":53},{"t":14.9,"v":54},{"t":15.1,"v":72},{"t":15.35,"v":90},{"t":15.7,"v":72},{"t":16.2,"v":62},{"t":16.8,"v":55},{"t":17.4,"v":57},{"t":18,"v":51},{"t":18.7,"v":52},{"t":19.3,"v":48},{"t":19.9,"v":49},{"t":20.1,"v":32},{"t":20.35,"v":12},{"t":20.7,"v":22},{"t":21.2,"v":34},{"t":21.8,"v":40},{"t":22.4,"v":44},{"t":23,"v":42},{"t":23.7,"v":46},{"t":24.3,"v":44},{"t":24.9,"v":46},{"t":25.1,"v":30},{"t":25.35,"v":8},{"t":25.7,"v":20},{"t":26.2,"v":35},{"t":26.8,"v":42},{"t":27.4,"v":46},{"t":28,"v":44},{"t":28.7,"v":48},{"t":29.3,"v":46},{"t":29.9,"v":49},{"t":30.1,"v":30},{"t":30.35,"v":8},{"t":30.7,"v":22},{"t":31.2,"v":38},{"t":31.8,"v":45},{"t":32.4,"v":49},{"t":33,"v":47},{"t":33.7,"v":51},{"t":34.3,"v":49},{"t":34.9,"v":52},{"t":35.1,"v":35},{"t":35.35,"v":15},{"t":35.7,"v":28},{"t":36.2,"v":42},{"t":36.8,"v":50},{"t":37.4,"v":53},{"t":38,"v":52},{"t":38.7,"v":56},{"t":39.3,"v":54},{"t":39.9,"v":57},{"t":40.1,"v":35},{"t":40.35,"v":15},{"t":40.7,"v":30},{"t":41.2,"v":46},{"t":41.8,"v":53},{"t":42.4,"v":56},{"t":43,"v":55},{"t":43.7,"v":59},{"t":44.3,"v":57},{"t":44.9,"v":60},{"t":45.1,"v":80},{"t":45.35,"v":96},{"t":45.7,"v":76},{"t":46.2,"v":65},{"t":46.8,"v":60},{"t":47.4,"v":61},{"t":48,"v":57},{"t":48.7,"v":58},{"t":49.3,"v":55},{"t":49.9,"v":56},{"t":50.1,"v":85},{"t":50.35,"v":100},{"t":50.7,"v":80},{"t":51.2,"v":66},{"t":51.8,"v":59},{"t":52.4,"v":60},{"t":53,"v":55},{"t":53.7,"v":56},{"t":54.3,"v":53},{"t":54.9,"v":54},{"t":55.1,"v":78},{"t":55.35,"v":93},{"t":55.7,"v":74},{"t":56.2,"v":61},{"t":56.8,"v":54},{"t":57.4,"v":55},{"t":58,"v":50},{"t":58.7,"v":51},{"t":59.3,"v":48},{"t":59.9,"v":50},{"t":60.1,"v":75},{"t":60.35,"v":91},{"t":60.7,"v":71},{"t":61.2,"v":58},{"t":61.8,"v":51},{"t":62.4,"v":52},{"t":63,"v":48},{"t":63.7,"v":49},{"t":64.3,"v":46},{"t":64.9,"v":47},{"t":65.1,"v":72},{"t":65.35,"v":87},{"t":65.7,"v":66},{"t":66.2,"v":53},{"t":66.8,"v":47},{"t":67.4,"v":48},{"t":68,"v":44},{"t":68.7,"v":45},{"t":69.3,"v":42},{"t":69.9,"v":44},{"t":70.1,"v":25},{"t":70.35,"v":5},{"t":70.7,"v":18},{"t":71.2,"v":32},{"t":71.8,"v":40},{"t":72.4,"v":43},{"t":73,"v":41},{"t":73.7,"v":45},{"t":74.3,"v":43},{"t":74.9,"v":46},{"t":75.1,"v":25},{"t":75.35,"v":5},{"t":75.7,"v":20},{"t":76.2,"v":34},{"t":76.8,"v":41},{"t":77.4,"v":45},{"t":78,"v":43},{"t":78.7,"v":46},{"t":79.3,"v":44},{"t":79.9,"v":47},{"t":80.1,"v":28},{"t":80.35,"v":8},{"t":80.7,"v":24},{"t":81.2,"v":36},{"t":81.8,"v":43},{"t":82.4,"v":46},{"t":83,"v":44},{"t":83.7,"v":47},{"t":84.3,"v":45},{"t":84.7,"v":46},{"t":85,"v":28}],
  "aiiipos": [{"s":"b","t":0,"v":0.05},{"s":"b","t":2.5,"v":0.03},{"s":"b","t":5.1,"v":0.05},{"s":"b","t":5.9,"v":-0.13},{"s":"b","t":7.5,"v":-0.11},{"s":"b","t":10.1,"v":-0.13},{"s":"b","t":10.9,"v":-0.47},{"s":"b","t":12.5,"v":-0.49},{"s":"b","t":15.1,"v":-0.47},{"s":"b","t":15.9,"v":-0.82},{"s":"b","t":17.5,"v":-0.8},{"s":"b","t":20.1,"v":-0.82},{"s":"b","t":20.9,"v":-0.47},{"s":"b","t":22.5,"v":-0.49},{"s":"b","t":25.1,"v":-0.47},{"s":"b","t":25.9,"v":-0.13},{"s":"b","t":27.5,"v":-0.11},{"s":"b","t":30.1,"v":-0.13},{"s":"b","t":30.9,"v":0.22},{"s":"b","t":32.5,"v":0.2},{"s":"b","t":35.1,"v":0.22},{"s":"b","t":35.9,"v":0.6},{"s":"b","t":37.5,"v":0.62},{"s":"b","t":40.1,"v":0.6},{"s":"b","t":40.9,"v":1},{"s":"b","t":41.8,"v":0.98},{"s":"b","t":42.5,"v":1},
    {"s":"g","t":0,"v":0.02},{"s":"g","t":2.5,"v":0.04},{"s":"g","t":5,"v":0.02},{"s":"g","t":5.8,"v":-0.15},{"s":"g","t":7.5,"v":-0.14},{"s":"g","t":10,"v":-0.15},{"s":"g","t":10.8,"v":-0.5},{"s":"g","t":12.5,"v":-0.48},{"s":"g","t":15,"v":-0.5},{"s":"g","t":15.8,"v":-0.85},{"s":"g","t":17.5,"v":-0.84},{"s":"g","t":20,"v":-0.85},{"s":"g","t":20.8,"v":-0.45},{"s":"g","t":22.5,"v":-0.46},{"s":"g","t":25,"v":-0.45},{"s":"g","t":25.8,"v":-0.1},{"s":"g","t":27.5,"v":-0.12},{"s":"g","t":30,"v":-0.1},{"s":"g","t":30.8,"v":0.25},{"s":"g","t":32.5,"v":0.24},{"s":"g","t":35,"v":0.25},{"s":"g","t":35.8,"v":0.63},{"s":"g","t":37.5,"v":0.61},{"s":"g","t":40,"v":0.63},{"s":"g","t":40.8,"v":1},{"s":"g","t":41.8,"v":1.02},{"s":"g","t":42.5,"v":1}],
  "aiiifr": [{"s":"b","t":0,"v":25},{"s":"b","t":0.3,"v":45},{"s":"b","t":1,"v":52},{"s":"b","t":1.6,"v":48},{"s":"b","t":2.2,"v":58},{"s":"b","t":2.8,"v":52},{"s":"b","t":3.4,"v":56},{"s":"b","t":4,"v":50},{"s":"b","t":4.5,"v":45},{"s":"b","t":5,"v":50},{"s":"b","t":5.1,"v":95},{"s":"b","t":5.3,"v":108},{"s":"b","t":5.6,"v":100},{"s":"b","t":6.2,"v":88},{"s":"b","t":7,"v":85},{"s":"b","t":7.6,"v":87},{"s":"b","t":8.3,"v":81},{"s":"b","t":9,"v":80},{"s":"b","t":9.8,"v":82},{"s":"b","t":10.2,"v":110},{"s":"b","t":10.5,"v":118},{"s":"b","t":11,"v":108},{"s":"b","t":11.7,"v":101},{"s":"b","t":12.4,"v":97},{"s":"b","t":13.1,"v":99},{"s":"b","t":13.8,"v":94},{"s":"b","t":14.8,"v":98},{"s":"b","t":15.2,"v":112},{"s":"b","t":15.5,"v":116},{"s":"b","t":16,"v":105},{"s":"b","t":16.7,"v":95},{"s":"b","t":17.4,"v":90},{"s":"b","t":18.1,"v":86},{"s":"b","t":18.8,"v":88},{"s":"b","t":19.8,"v":90},{"s":"b","t":20.1,"v":85},{"s":"b","t":20.3,"v":40},{"s":"b","t":20.5,"v":15},{"s":"b","t":20.8,"v":20},{"s":"b","t":21.3,"v":40},{"s":"b","t":22,"v":50},{"s":"b","t":22.7,"v":54},{"s":"b","t":23.4,"v":51},{"s":"b","t":24.1,"v":54},{"s":"b","t":24.8,"v":50},{"s":"b","t":25.1,"v":20},{"s":"b","t":25.4,"v":2},{"s":"b","t":26,"v":2},{"s":"b","t":26.5,"v":30},{"s":"b","t":27,"v":45},{"s":"b","t":27.7,"v":50},{"s":"b","t":28.4,"v":48},{"s":"b","t":29.1,"v":53},{"s":"b","t":29.8,"v":55},{"s":"b","t":30.1,"v":25},{"s":"b","t":30.4,"v":2},{"s":"b","t":31,"v":2},{"s":"b","t":31.5,"v":35},{"s":"b","t":32,"v":50},{"s":"b","t":32.8,"v":55},{"s":"b","t":33.5,"v":53},{"s":"b","t":34.2,"v":57},{"s":"b","t":34.8,"v":58},{"s":"b","t":35.1,"v":30},{"s":"b","t":35.4,"v":2},{"s":"b","t":36,"v":2},{"s":"b","t":36.5,"v":40},{"s":"b","t":37,"v":55},{"s":"b","t":37.7,"v":62},{"s":"b","t":38.4,"v":70},{"s":"b","t":39,"v":75},{"s":"b","t":39.5,"v":82},{"s":"b","t":39.8,"v":85},{"s":"b","t":40.1,"v":45},{"s":"b","t":40.4,"v":10},{"s":"b","t":40.8,"v":20},{"s":"b","t":41.2,"v":60},{"s":"b","t":41.8,"v":78},{"s":"b","t":42.5,"v":88},
    {"s":"g","t":0,"v":60},{"s":"g","t":0.5,"v":52},{"s":"g","t":1,"v":55},{"s":"g","t":1.6,"v":50},{"s":"g","t":2.3,"v":54},{"s":"g","t":3,"v":50},{"s":"g","t":3.7,"v":53},{"s":"g","t":4.4,"v":50},{"s":"g","t":4.8,"v":35},{"s":"g","t":5.1,"v":15},{"s":"g","t":5.3,"v":3},{"s":"g","t":5.6,"v":15},{"s":"g","t":6,"v":40},{"s":"g","t":6.5,"v":48},{"s":"g","t":7.2,"v":44},{"s":"g","t":7.9,"v":46},{"s":"g","t":8.6,"v":42},{"s":"g","t":9.3,"v":43},{"s":"g","t":9.6,"v":40},{"s":"g","t":9.9,"v":20},{"s":"g","t":10.1,"v":3},{"s":"g","t":10.5,"v":15},{"s":"g","t":11,"v":45},{"s":"g","t":11.5,"v":55},{"s":"g","t":12,"v":58},{"s":"g","t":12.7,"v":52},{"s":"g","t":13.4,"v":54},{"s":"g","t":14,"v":50},{"s":"g","t":14.6,"v":45},{"s":"g","t":15,"v":15},{"s":"g","t":15.3,"v":6},{"s":"g","t":15.7,"v":20},{"s":"g","t":16,"v":70},{"s":"g","t":16.3,"v":85},{"s":"g","t":17,"v":85},{"s":"g","t":17.7,"v":88},{"s":"g","t":18.4,"v":86},{"s":"g","t":19.1,"v":90},{"s":"g","t":19.8,"v":92},{"s":"g","t":20.2,"v":110},{"s":"g","t":20.5,"v":115},{"s":"g","t":21,"v":102},{"s":"g","t":21.7,"v":98},{"s":"g","t":22.4,"v":100},{"s":"g","t":23.1,"v":95},{"s":"g","t":23.8,"v":97},{"s":"g","t":24.8,"v":97},{"s":"g","t":25.2,"v":110},{"s":"g","t":25.5,"v":114},{"s":"g","t":26,"v":102},{"s":"g","t":26.7,"v":98},{"s":"g","t":27.4,"v":101},{"s":"g","t":28.1,"v":97},{"s":"g","t":28.8,"v":100},{"s":"g","t":29.8,"v":100},{"s":"g","t":30.2,"v":112},{"s":"g","t":30.5,"v":118},{"s":"g","t":31,"v":108},{"s":"g","t":31.7,"v":104},{"s":"g","t":32.4,"v":106},{"s":"g","t":33.1,"v":102},{"s":"g","t":33.8,"v":104},{"s":"g","t":34.8,"v":105},{"s":"g","t":35.2,"v":120},{"s":"g","t":35.5,"v":126},{"s":"g","t":36,"v":113},{"s":"g","t":36.7,"v":108},{"s":"g","t":37.4,"v":110},{"s":"g","t":38.1,"v":105},{"s":"g","t":38.8,"v":108},{"s":"g","t":39.8,"v":110},{"s":"g","t":40.2,"v":125},{"s":"g","t":40.5,"v":129},{"s":"g","t":41,"v":112},{"s":"g","t":41.8,"v":95},{"s":"g","t":42.5,"v":88}],
  "biiipos": [{"s":"b","t":0,"v":-0.03},{"s":"b","t":2.5,"v":-0.01},{"s":"b","t":5.1,"v":-0.03},{"s":"b","t":5.9,"v":-0.17},{"s":"b","t":7.5,"v":-0.19},{"s":"b","t":10.1,"v":-0.17},{"s":"b","t":10.9,"v":-0.56},{"s":"b","t":12.5,"v":-0.54},{"s":"b","t":15.1,"v":-0.56},{"s":"b","t":15.9,"v":-1},{"s":"b","t":17.5,"v":-0.98},{"s":"b","t":20.1,"v":-1},{"s":"b","t":20.9,"v":-0.65},{"s":"b","t":22.5,"v":-0.67},{"s":"b","t":25.1,"v":-0.65},{"s":"b","t":25.9,"v":-0.28},{"s":"b","t":27.5,"v":-0.3},{"s":"b","t":30.1,"v":-0.28},{"s":"b","t":30.9,"v":0.19},{"s":"b","t":32.5,"v":0.17},{"s":"b","t":35.1,"v":0.19},{"s":"b","t":35.9,"v":0.65},{"s":"b","t":37.5,"v":0.63},{"s":"b","t":40.1,"v":0.65},{"s":"b","t":40.9,"v":1.05},{"s":"b","t":41.8,"v":1.03},{"s":"b","t":42.5,"v":1.05},
    {"s":"g","t":0,"v":0},{"s":"g","t":2.5,"v":0.02},{"s":"g","t":5,"v":0},{"s":"g","t":5.8,"v":-0.15},{"s":"g","t":7.5,"v":-0.14},{"s":"g","t":10,"v":-0.15},{"s":"g","t":10.8,"v":-0.58},{"s":"g","t":12.5,"v":-0.6},{"s":"g","t":15,"v":-0.58},{"s":"g","t":15.8,"v":-1.02},{"s":"g","t":17.5,"v":-1.04},{"s":"g","t":20,"v":-1.02},{"s":"g","t":20.8,"v":-0.62},{"s":"g","t":22.5,"v":-0.6},{"s":"g","t":25,"v":-0.62},{"s":"g","t":25.8,"v":-0.25},{"s":"g","t":27.5,"v":-0.23},{"s":"g","t":30,"v":-0.25},{"s":"g","t":30.8,"v":0.22},{"s":"g","t":32.5,"v":0.24},{"s":"g","t":35,"v":0.22},{"s":"g","t":35.8,"v":0.68},{"s":"g","t":37.5,"v":0.7},{"s":"g","t":40,"v":0.68},{"s":"g","t":40.8,"v":1.05},{"s":"g","t":41.8,"v":1.07},{"s":"g","t":42.5,"v":1.05}],
  "biiifr": [{"s":"b","t":0,"v":60},{"s":"b","t":0.3,"v":50},{"s":"b","t":1,"v":53},{"s":"b","t":1.7,"v":47},{"s":"b","t":2.4,"v":52},{"s":"b","t":3.1,"v":48},{"s":"b","t":3.8,"v":51},{"s":"b","t":4.4,"v":49},{"s":"b","t":5,"v":45},{"s":"b","t":5.2,"v":75},{"s":"b","t":5.4,"v":85},{"s":"b","t":5.8,"v":70},{"s":"b","t":6.5,"v":62},{"s":"b","t":7.2,"v":60},{"s":"b","t":7.9,"v":56},{"s":"b","t":8.6,"v":58},{"s":"b","t":9.3,"v":54},{"s":"b","t":9.9,"v":57},{"s":"b","t":10.1,"v":80},{"s":"b","t":10.4,"v":95},{"s":"b","t":10.8,"v":80},{"s":"b","t":11.5,"v":65},{"s":"b","t":12.2,"v":62},{"s":"b","t":12.9,"v":58},{"s":"b","t":13.6,"v":60},{"s":"b","t":14.3,"v":55},{"s":"b","t":14.9,"v":60},{"s":"b","t":15.1,"v":82},{"s":"b","t":15.4,"v":91},{"s":"b","t":15.8,"v":75},{"s":"b","t":16.5,"v":62},{"s":"b","t":17.2,"v":60},{"s":"b","t":17.9,"v":56},{"s":"b","t":18.6,"v":57},{"s":"b","t":19.3,"v":52},{"s":"b","t":19.9,"v":50},{"s":"b","t":20.1,"v":30},{"s":"b","t":20.4,"v":11},{"s":"b","t":20.9,"v":25},{"s":"b","t":21.6,"v":38},{"s":"b","t":22.3,"v":43},{"s":"b","t":23,"v":41},{"s":"b","t":23.7,"v":45},{"s":"b","t":24.4,"v":44},{"s":"b","t":24.9,"v":42},{"s":"b","t":25.1,"v":25},{"s":"b","t":25.4,"v":11},{"s":"b","t":25.9,"v":28},{"s":"b","t":26.6,"v":40},{"s":"b","t":27.3,"v":45},{"s":"b","t":28,"v":43},{"s":"b","t":28.7,"v":47},{"s":"b","t":29.4,"v":45},{"s":"b","t":29.9,"v":42},{"s":"b","t":30.1,"v":25},{"s":"b","t":30.4,"v":10},{"s":"b","t":30.9,"v":28},{"s":"b","t":31.6,"v":42},{"s":"b","t":32.3,"v":47},{"s":"b","t":33,"v":44},{"s":"b","t":33.7,"v":47},{"s":"b","t":34.4,"v":45},{"s":"b","t":34.9,"v":40},{"s":"b","t":35.1,"v":22},{"s":"b","t":35.4,"v":8},{"s":"b","t":35.9,"v":28},{"s":"b","t":36.6,"v":42},{"s":"b","t":37.3,"v":48},{"s":"b","t":38,"v":46},{"s":"b","t":38.7,"v":49},{"s":"b","t":39.4,"v":47},{"s":"b","t":39.9,"v":45},{"s":"b","t":40.1,"v":28},{"s":"b","t":40.4,"v":18},{"s":"b","t":40.9,"v":35},{"s":"b","t":41.6,"v":46},{"s":"b","t":42.5,"v":50},
    {"s":"g","t":0,"v":30},{"s":"g","t":0.2,"v":45},{"s":"g","t":0.9,"v":47},{"s":"g","t":1.6,"v":43},{"s":"g","t":2.3,"v":47},{"s":"g","t":3,"v":44},{"s":"g","t":3.7,"v":47},{"s":"g","t":4.4,"v":44},{"s":"g","t":4.8,"v":44},{"s":"g","t":5.1,"v":25},{"s":"g","t":5.4,"v":18},{"s":"g","t":5.9,"v":30},{"s":"g","t":6.6,"v":40},{"s":"g","t":7.3,"v":44},{"s":"g","t":8,"v":42},{"s":"g","t":8.7,"v":45},{"s":"g","t":9.4,"v":43},{"s":"g","t":9.9,"v":40},{"s":"g","t":10.1,"v":20},{"s":"g","t":10.4,"v":8},{"s":"g","t":10.9,"v":25},{"s":"g","t":11.6,"v":38},{"s":"g","t":12.3,"v":43},{"s":"g","t":13,"v":41},{"s":"g","t":13.7,"v":45},{"s":"g","t":14.4,"v":45},{"s":"g","t":14.9,"v":40},{"s":"g","t":15.1,"v":20},{"s":"g","t":15.4,"v":6},{"s":"g","t":15.9,"v":25},{"s":"g","t":16.6,"v":40},{"s":"g","t":17.3,"v":46},{"s":"g","t":18,"v":45},{"s":"g","t":18.7,"v":49},{"s":"g","t":19.4,"v":50},{"s":"g","t":19.9,"v":55},{"s":"g","t":20.1,"v":75},{"s":"g","t":20.4,"v":85},{"s":"g","t":21,"v":85},{"s":"g","t":21.5,"v":75},{"s":"g","t":22.3,"v":62},{"s":"g","t":23,"v":58},{"s":"g","t":23.7,"v":57},{"s":"g","t":24.4,"v":55},{"s":"g","t":24.9,"v":58},{"s":"g","t":25.1,"v":75},{"s":"g","t":25.4,"v":85},{"s":"g","t":26,"v":85},{"s":"g","t":26.5,"v":70},{"s":"g","t":27.3,"v":60},{"s":"g","t":28,"v":57},{"s":"g","t":28.7,"v":55},{"s":"g","t":29.4,"v":56},{"s":"g","t":29.9,"v":57},{"s":"g","t":30.1,"v":78},{"s":"g","t":30.4,"v":88},{"s":"g","t":31,"v":86},{"s":"g","t":31.5,"v":70},{"s":"g","t":32.3,"v":60},{"s":"g","t":33,"v":56},{"s":"g","t":33.7,"v":57},{"s":"g","t":34.4,"v":55},{"s":"g","t":34.9,"v":58},{"s":"g","t":35.1,"v":82},{"s":"g","t":35.4,"v":97},{"s":"g","t":36,"v":92},{"s":"g","t":36.5,"v":75},{"s":"g","t":37.3,"v":62},{"s":"g","t":38,"v":57},{"s":"g","t":38.7,"v":56},{"s":"g","t":39.4,"v":55},{"s":"g","t":39.9,"v":60},{"s":"g","t":40.1,"v":82},{"s":"g","t":40.4,"v":94},{"s":"g","t":41,"v":88},{"s":"g","t":41.5,"v":70},{"s":"g","t":42,"v":58},{"s":"g","t":42.5,"v":56}],
  "aiv": [{"o":1,"a":-0.853,"r":89.6,"lo":85,"hi":95},{"o":2,"a":-0.535,"r":54.2,"lo":44.2,"hi":64.2},{"o":3,"a":-0.165,"r":46.3,"lo":39.1,"hi":53.5},{"o":4,"a":0.229,"r":59.9,"lo":53.9,"hi":65.9},{"o":5,"a":0.524,"r":76.2,"lo":69.8,"hi":82.6},{"o":6,"a":0.912,"r":97.2,"lo":93.2,"hi":101.2},{"o":7,"a":0.635,"r":103.2,"lo":101.7,"hi":104.7},{"o":8,"a":0.259,"r":99.1,"lo":93.4,"hi":104.8},{"o":9,"a":-0.041,"r":95.3,"lo":86.4,"hi":104.2},{"o":10,"a":-0.429,"r":83.6,"lo":75.4,"hi":91.8},{"o":11,"a":-0.853,"r":80.3,"lo":72.1,"hi":88.5}],
  "biv": [{"o":1,"a":-1.05,"r":55,"lo":51,"hi":59},{"o":2,"a":-0.64,"r":42,"lo":38,"hi":46},{"o":3,"a":-0.3,"r":45,"lo":43,"hi":47},{"o":4,"a":0.2,"r":43,"lo":40,"hi":46},{"o":5,"a":0.65,"r":50,"lo":46,"hi":54},{"o":6,"a":1.07,"r":53,"lo":51,"hi":55},{"o":7,"a":0.75,"r":60,"lo":57,"hi":64},{"o":8,"a":0.3,"r":52,"lo":49,"hi":55},{"o":9,"a":-0.14,"r":52,"lo":48,"hi":56},{"o":10,"a":-0.62,"r":52,"lo":46,"hi":59},{"o":11,"a":-1.04,"r":53,"lo":51,"hi":56}],
  "hist": [{"a":3.8,"b":5.8,"n":3},{"a":5.8,"b":7.8,"n":6},{"a":7.8,"b":9.8,"n":4},{"a":9.8,"b":11.8,"n":4},{"a":11.8,"b":13.8,"n":2},{"a":13.8,"b":15.8,"n":3},{"a":15.8,"b":17.8,"n":5},{"a":17.8,"b":19.8,"n":4},{"a":19.8,"b":21.8,"n":5},{"a":21.8,"b":23.8,"n":5},{"a":23.8,"b":25.8,"n":5},{"a":25.8,"b":27.8,"n":1},{"a":27.8,"b":29.8,"n":1},{"a":29.8,"b":31.8,"n":0},{"a":31.8,"b":33.8,"n":2},{"a":33.8,"b":35.8,"n":2},{"a":35.8,"b":37.8,"n":1},{"a":37.8,"b":39.8,"n":3},{"a":39.8,"b":41.8,"n":0},{"a":41.8,"b":43.8,"n":0},{"a":43.8,"b":45.8,"n":1},{"a":45.8,"b":47.8,"n":0},{"a":47.8,"b":49.8,"n":1},{"a":49.8,"b":51.8,"n":0},{"a":51.8,"b":53.8,"n":0},{"a":53.8,"b":55.8,"n":0},{"a":55.8,"b":57.8,"n":0},{"a":57.8,"b":59.8,"n":0},{"a":59.8,"b":61.8,"n":0},{"a":61.8,"b":63.8,"n":1}]
},
"hconcat": [
 {"spacing": 0, "bounds": "flush", "vconcat": [
  {"width": 420, "height": 60, "title": {"text": "Ai", "offset": -18, "dx": 7},
   "data": {"name": "aipos"}, "mark": {"type": "line", "color": "#b03a1c", "strokeWidth": 1.3},
   "encoding": {
     "x": {"field": "t", "type": "quantitative", "scale": {"domain": [4, 13], "range": [111, 408], "nice": false, "zero": false}, "axis": null},
     "y": {"field": "v", "type": "quantitative", "scale": {"domain": [-1, 0], "range": [52.3, 34.3], "nice": false, "zero": false}, "axis": {"values": [-1, 0], "tickCount": 12, "format": "~g", "offset": -103, "labelPadding": 19, "title": ["Position", "(deg)"], "titleAngle": 0, "titleAlign": "right", "titleBaseline": "middle", "titleX": -37, "titleY": 36, "titleLineHeight": 15}}}},
  {"width": 420, "height": 55, "layer": [
    {"data": {"name": "aibase"}, "mark": {"type": "line", "color": "#000", "strokeWidth": 1.2},
     "encoding": {
       "x": {"field": "t", "type": "quantitative", "scale": {"domain": [4, 13], "range": [111, 408], "nice": false, "zero": false}, "axis": null},
       "y": {"field": "v", "type": "quantitative", "scale": {"domain": [0, 60], "range": [45, 10.7], "nice": false, "zero": false}, "axis": {"values": [0, 60], "tickCount": 12, "format": "d", "offset": -103, "labelPadding": 9, "title": ["Membrane", "potential", "(mV)"], "titleFontSize": 12.5, "titleAngle": 0, "titleAlign": "right", "titleBaseline": "middle", "titleX": -37, "titleY": 16.7, "titleLineHeight": 12.2}}}},
    {"data": {"name": "aimem"}, "mark": {"type": "rule", "color": "#000", "strokeWidth": 2},
     "encoding": {"x": {"field": "t", "type": "quantitative"}, "y": {"datum": -6}, "y2": {"datum": 60}}}]},
  {"width": 420, "height": 57, "data": {"name": "airas"},
   "mark": {"type": "tick", "orient": "vertical", "thickness": 3.6, "size": 4.4, "yOffset": 2.2, "color": "#222222", "opacity": 1},
   "encoding": {
     "x": {"field": "t", "type": "quantitative", "scale": {"domain": [4, 13], "range": [111, 408], "nice": false, "zero": false}, "axis": null},
     "y": {"field": "k", "type": "quantitative", "scale": {"domain": [0, 5], "range": [48.3, 9], "nice": false, "zero": false}, "axis": {"values": [0, 5], "tickCount": 12, "format": "d", "offset": -103, "labelPadding": 7, "title": "Trials", "titleAngle": 270, "titleAlign": "center", "titleBaseline": "middle", "titleX": -43.5, "titleY": 30.2}}}},
  {"width": 420, "height": 144, "layer": [
    {"data": {"values": [{"base": 60}]}, "mark": {"type": "rule", "color": "#8a8a8a", "strokeDash": [8, 4], "strokeWidth": 1},
     "encoding": {"x": {"datum": 4, "scale": {"domain": [4, 13], "range": [111, 408], "nice": false, "zero": false}}, "x2": {"datum": 12.85},
       "y": {"field": "base", "type": "quantitative", "scale": {"domain": [0, 150], "range": [71.3, 10.3], "nice": false, "zero": false}}}},
    {"data": {"name": "aifr"}, "mark": {"type": "line", "color": "#c8dfa3", "strokeWidth": 5.5, "strokeJoin": "round"},
     "encoding": {
       "x": {"field": "t", "type": "quantitative", "axis": {"values": [4, 5, 6, 7, 8, 9, 10, 11, 12, 13], "tickCount": 12, "format": "d", "offset": -57.3, "labelPadding": 6, "title": "Time (s)", "titlePadding": 6.5}},
       "y": {"field": "v", "type": "quantitative", "axis": {"values": [0, 50, 100, 150], "tickCount": 12, "format": "d", "offset": -103, "labelPadding": 8, "title": ["Firing", "rate (Hz)"], "titleAngle": 270, "titleAlign": "right", "titleBaseline": "middle", "titleX": -43, "titleY": 15, "titleLineHeight": 11.5}}}},
    {"data": {"name": "aifr"}, "mark": {"type": "line", "color": "#5b8a2b", "strokeWidth": 1.5},
     "encoding": {"x": {"field": "t", "type": "quantitative"}, "y": {"field": "v", "type": "quantitative"}}},
    {"data": {"values": [{"label": "11.4 s\n18.5 s"}]}, "mark": {"type": "text", "align": "left", "baseline": "middle", "fontSize": 14, "lineBreak": "\n", "lineHeight": 15.7, "font": "Liberation Sans"},
     "encoding": {"x": {"datum": 11.36}, "y": {"datum": 140.9}, "text": {"field": "label"}}}]},
  {"width": 420, "height": 69.5, "title": {"text": "Aii", "offset": -1, "dx": 7}, "layer": [
    {"data": {"name": "stim"}, "mark": {"type": "rule", "color": "#b5b5b5", "strokeWidth": 2.8},
     "encoding": {"x": {"field": "t", "type": "quantitative", "scale": {"domain": [0, 85], "range": [115, 409], "nice": false, "zero": false}, "axis": null}}},
    {"data": {"name": "aiipos"}, "mark": {"type": "line", "color": "#ecbcaf", "strokeWidth": 3.5},
     "encoding": {"x": {"field": "t", "type": "quantitative"},
       "y": {"field": "v", "type": "quantitative", "scale": {"domain": [-1, 1], "range": [60.7, 4.7], "nice": false, "zero": false}, "axis": {"values": [-1, 0, 1], "tickCount": 12, "format": "~g", "labelOverlap": false, "offset": -105.7, "labelPadding": 9.7, "title": ["Angular", "position", "(deg)"], "titleAngle": 270, "titleAlign": "center", "titleBaseline": "middle", "titleX": -77.7, "titleY": 22, "titleLineHeight": 12}}}},
    {"data": {"name": "aiipos"}, "mark": {"type": "line", "color": "#b03a1c", "strokeWidth": 1.4},
     "encoding": {"x": {"field": "t", "type": "quantitative"}, "y": {"field": "v", "type": "quantitative"}}}]},
  {"width": 420, "height": 4, "data": {"name": "sweep"}, "mark": {"type": "rect"},
   "encoding": {"x": {"field": "t0", "type": "quantitative", "scale": {"domain": [0, 85], "range": [115, 409], "nice": false, "zero": false}, "axis": null}, "x2": {"field": "t1"},
     "color": {"field": "s", "type": "nominal", "scale": {"domain": ["first", "second"], "range": ["#1c1c1c", "#808080"]}, "legend": null}}},
  {"width": 420, "height": 92.5, "layer": [
    {"data": {"name": "stim"}, "mark": {"type": "rule", "color": "#b5b5b5", "strokeWidth": 2.8},
     "encoding": {"x": {"field": "t", "type": "quantitative", "scale": {"domain": [0, 85], "range": [115, 409], "nice": false, "zero": false}, "axis": {"values": [0, 10, 20, 30, 40, 50, 60, 70, 80], "tickCount": 12, "format": "d", "offset": 9.7, "labelPadding": 6.5, "title": "Time (s)", "titlePadding": 13.5}}}},
    {"data": {"name": "aiifr"}, "mark": {"type": "line", "color": "#c8dfa3", "strokeWidth": 6, "strokeJoin": "round"},
     "encoding": {"x": {"field": "t", "type": "quantitative"},
       "y": {"field": "v", "type": "quantitative", "scale": {"domain": [0, 150], "range": [87.2, 10.5], "nice": false, "zero": false}, "axis": {"values": [0, 50, 100, 150], "tickCount": 12, "format": "d", "labelOverlap": false, "offset": -105.7, "labelPadding": 9.7, "title": ["Firing", "rate (Hz)"], "titleAngle": 270, "titleAlign": "right", "titleBaseline": "middle", "titleX": -68.7, "titleY": 24.5, "titleLineHeight": 12}}}},
    {"data": {"name": "aiifr"}, "mark": {"type": "line", "color": "#5b8a2b", "strokeWidth": 1.5},
     "encoding": {"x": {"field": "t", "type": "quantitative"}, "y": {"field": "v", "type": "quantitative"}}}]},
  {"width": 420, "height": 131.8, "title": {"text": "Aiii", "offset": -73.3, "dx": 7}, "data": {"name": "aiiipos"},
   "mark": {"type": "line", "strokeWidth": 1.6},
   "encoding": {
     "x": {"field": "t", "type": "quantitative", "scale": {"domain": [0, 42.5], "range": [110, 409.2], "nice": false, "zero": false}, "axis": null},
     "y": {"field": "v", "type": "quantitative", "scale": {"domain": [-1, 1], "range": [124.7, 86.3], "nice": false, "zero": false}, "axis": {"values": [-1, 0, 1], "tickCount": 12, "format": "~g", "labelOverlap": false, "offset": -105.7, "labelPadding": 9.7, "title": ["Angular", "position", "(deg)"], "titleAngle": 270, "titleAlign": "center", "titleBaseline": "middle", "titleX": -77.7, "titleY": 100.5, "titleLineHeight": 11.5}},
     "color": {"field": "s", "type": "nominal", "scale": {"domain": ["b", "g"], "range": ["#000000", "#8c8c8c"]}, "legend": null}}},
  {"width": 420, "height": 161.2, "data": {"name": "aiiifr"},
   "mark": {"type": "line", "strokeWidth": 1.3},
   "encoding": {
     "x": {"field": "t", "type": "quantitative", "scale": {"domain": [0, 42.5], "range": [110, 409.2], "nice": false, "zero": false}, "axis": {"values": [0, 10, 20, 30, 40], "tickCount": 12, "format": "d", "offset": -61.7, "labelPadding": 12, "title": "Time (s)", "titlePadding": 7}},
     "y": {"field": "v", "type": "quantitative", "scale": {"domain": [0, 150], "range": [87.2, 7.2], "nice": false, "zero": false}, "axis": {"values": [0, 50, 100, 150], "tickCount": 12, "format": "d", "offset": -105.7, "labelPadding": 9.7, "title": ["Firing", "rate (Hz)"], "titleAngle": 270, "titleAlign": "left", "titleBaseline": "middle", "titleX": -68.7, "titleY": 69.2, "titleLineHeight": 12}},
     "color": {"field": "s", "type": "nominal", "scale": {"domain": ["b", "g"], "range": ["#000000", "#8c8c8c"]}, "legend": null}}},
  {"width": 420, "height": 175, "title": {"text": "Aiv", "offset": 6.7, "dx": 7},
   "layer": [
    {"data": {"name": "aiv"}, "layer": [
      {"mark": {"type": "line", "fill": "#e2ecd2", "stroke": "#5a5a5a", "strokeWidth": 1},
       "encoding": {
         "x": {"field": "a", "type": "quantitative", "scale": {"domain": [-1.5, 1.5], "range": [106, 276], "nice": false, "zero": false}, "axis": {"values": [-1.5, -1, -0.5, 0, 0.5, 1, 1.5], "tickCount": 12, "format": "~g", "offset": -37.3, "labelPadding": 9, "title": "Angular position (deg)", "titlePadding": 8}},
         "y": {"field": "r", "type": "quantitative", "scale": {"domain": [25, 125], "range": [130, 7.7], "nice": false, "zero": false}, "axis": {"values": [25, 50, 75, 100, 125], "tickCount": 12, "format": "d", "offset": -100, "labelPadding": 7.3, "title": ["Steady-state", "firing rate (Hz)"], "titleAngle": 270, "titleAlign": "center", "titleBaseline": "middle", "titleX": -55, "titleY": 70, "titleLineHeight": 15}},
         "order": {"field": "o", "type": "quantitative"}}},
      {"mark": {"type": "rule", "color": "#555555", "strokeWidth": 1},
       "encoding": {"x": {"field": "a", "type": "quantitative"}, "y": {"field": "lo", "type": "quantitative"}, "y2": {"field": "hi"}}},
      {"mark": {"type": "tick", "orient": "horizontal", "size": 5, "thickness": 1, "color": "#555555", "opacity": 1},
       "encoding": {"x": {"field": "a", "type": "quantitative"}, "y": {"field": "lo", "type": "quantitative"}}},
      {"mark": {"type": "tick", "orient": "horizontal", "size": 5, "thickness": 1, "color": "#555555", "opacity": 1},
       "encoding": {"x": {"field": "a", "type": "quantitative"}, "y": {"field": "hi", "type": "quantitative"}}},
      {"mark": {"type": "circle", "size": 22, "stroke": "#333333", "strokeWidth": 0.8, "opacity": 1},
       "encoding": {"x": {"field": "a", "type": "quantitative"}, "y": {"field": "r", "type": "quantitative"},
         "fill": {"field": "o", "type": "ordinal", "scale": {"range": ["#000000", "#1a1a1a", "#333333", "#4d4d4d", "#666666", "#808080", "#999999", "#b3b3b3", "#cccccc", "#e6e6e6", "#ffffff"]}, "legend": null}}},
      {"data": {"values": [{"label": "Area=49.5 Hz-deg"}]}, "mark": {"type": "text", "align": "left", "baseline": "middle", "fontSize": 13.5, "font": "Liberation Sans"},
       "encoding": {"x": {"datum": -1.24}, "y": {"datum": 118.8}, "text": {"field": "label"}}}]},
    {"data": {"name": "aiv"}, "layer": [
      {"mark": {"type": "tick", "orient": "horizontal", "size": 17.6, "thickness": 10.9, "opacity": 1},
       "encoding": {
         "x": {"datum": 0.5, "scale": {"domain": [0, 1], "range": [296.7, 314.3], "nice": false, "zero": false}, "axis": null},
         "y": {"field": "o", "type": "quantitative", "scale": {"domain": [0.5, 11.5], "range": [24, 142.3], "nice": false, "zero": false}, "axis": null},
         "color": {"field": "o", "type": "ordinal", "scale": {"range": ["#000000", "#1a1a1a", "#333333", "#4d4d4d", "#666666", "#808080", "#999999", "#b3b3b3", "#cccccc", "#e6e6e6", "#ffffff"]}, "legend": null}}},
      {"data": {"values": [{"frame": "colorbar"}]}, "mark": {"type": "rect", "fill": null, "stroke": "#000", "strokeWidth": 1},
       "encoding": {"x": {"datum": 0}, "x2": {"datum": 1}, "y": {"datum": 0.5}, "y2": {"datum": 11.5}}},
      {"data": {"values": [{"label": "Start"}]}, "mark": {"type": "text", "align": "center", "baseline": "middle", "fontSize": 13.5, "font": "Liberation Sans"},
       "encoding": {"x": {"datum": 0.5}, "y": {"datum": -0.38}, "text": {"field": "label"}}},
      {"data": {"values": [{"label": "End"}]}, "mark": {"type": "text", "align": "center", "baseline": "middle", "fontSize": 13.5, "font": "Liberation Sans"},
       "encoding": {"x": {"datum": 0.5}, "y": {"datum": 12.47}, "text": {"field": "label"}}}]}],
   "resolve": {"scale": {"x": "independent", "y": "independent", "color": "independent", "fill": "independent"}, "axis": {"x": "independent", "y": "independent"}}},
  {"width": 420, "height": 161, "title": {"text": "C", "offset": -20, "dx": 7}, "data": {"name": "hist"},
   "mark": {"type": "bar", "fill": "#b3b3b3", "stroke": "#3a3a3a", "strokeWidth": 0.8, "binSpacing": 0},
   "encoding": {
     "x": {"field": "a", "type": "quantitative", "bin": "binned", "scale": {"domain": [0, 70], "range": [116, 291.7], "nice": false, "zero": false}, "axis": {"values": [0, 10, 20, 30, 40, 50, 60, 70], "tickCount": 12, "format": "d", "offset": -42.7, "labelPadding": 7.7, "title": "Hysteresis loop area", "titlePadding": 8}},
     "x2": {"field": "b"},
     "y": {"field": "n", "type": "quantitative", "scale": {"domain": [0, 6], "range": [107.7, 29.3], "nice": false, "zero": false}, "axis": {"values": [0, 2, 4, 6], "tickCount": 12, "format": "d", "offset": -103.3, "labelPadding": 10.6, "title": "Counts", "titleAngle": 270, "titleAlign": "center", "titleBaseline": "middle", "titleX": -30, "titleY": 70}}}}
 ]},
 {"spacing": 0, "bounds": "flush", "vconcat": [
  {"width": 365, "height": 60, "title": {"text": "Bi", "offset": -18, "dx": 11.7},
   "data": {"name": "bipos"}, "mark": {"type": "line", "color": "#b03a1c", "strokeWidth": 1.3},
   "encoding": {
     "x": {"field": "t", "type": "quantitative", "scale": {"domain": [4, 13], "range": [63, 356], "nice": false, "zero": false}, "axis": null},
     "y": {"field": "v", "type": "quantitative", "scale": {"domain": [-1, 0], "range": [48.7, 34], "nice": false, "zero": false}, "axis": {"values": [-1, 0], "tickCount": 12, "format": "~g", "offset": -49, "labelPadding": 9.7, "title": null}}}},
  {"width": 365, "height": 55, "layer": [
    {"data": {"name": "bibase"}, "mark": {"type": "line", "color": "#111", "strokeWidth": 2.5},
     "encoding": {
       "x": {"field": "t", "type": "quantitative", "scale": {"domain": [4, 13], "range": [63, 356], "nice": false, "zero": false}, "axis": null},
       "y": {"field": "v", "type": "quantitative", "scale": {"domain": [0, 20], "range": [46, 19], "nice": false, "zero": false}, "axis": {"values": [0, 20], "tickCount": 12, "format": "d", "offset": -49, "labelPadding": 9.7, "title": null}}}},
    {"data": {"name": "bimem"}, "mark": {"type": "rule", "color": "#222", "strokeWidth": 1, "opacity": 0.85},
     "encoding": {"x": {"field": "t", "type": "quantitative"}, "y": {"datum": -3}, "y2": {"datum": 24.5}}}]},
  {"width": 365, "height": 57, "data": {"name": "biras"},
   "mark": {"type": "tick", "orient": "vertical", "thickness": 2, "size": 3.7, "yOffset": 1.8, "color": "#222222", "opacity": 1},
   "encoding": {
     "x": {"field": "t", "type": "quantitative", "scale": {"domain": [4, 13], "range": [63, 356], "nice": false, "zero": false}, "axis": null},
     "y": {"field": "k", "type": "quantitative", "scale": {"domain": [1, 5], "range": [48, 13], "nice": false, "zero": false}, "axis": {"values": [1, 5], "tickCount": 12, "format": "d", "offset": -49, "labelPadding": 9.7, "title": null}}}},
  {"width": 365, "height": 144, "layer": [
    {"data": {"values": [{"base": 46}]}, "mark": {"type": "rule", "color": "#8a8a8a", "strokeDash": [8, 4], "strokeWidth": 1},
     "encoding": {"x": {"datum": 4, "scale": {"domain": [4, 13], "range": [63, 356], "nice": false, "zero": false}}, "x2": {"datum": 12.85},
       "y": {"field": "base", "type": "quantitative", "scale": {"domain": [0, 200], "range": [71.3, 11.3], "nice": false, "zero": false}}}},
    {"data": {"name": "bifr"}, "mark": {"type": "line", "color": "#c8dfa3", "strokeWidth": 5.5, "strokeJoin": "round"},
     "encoding": {
       "x": {"field": "t", "type": "quantitative", "axis": {"values": [4, 5, 6, 7, 8, 9, 10, 11, 12, 13], "tickCount": 12, "format": "d", "offset": -56, "labelPadding": 6, "title": "Time (s)", "titlePadding": 6.5}},
       "y": {"field": "v", "type": "quantitative", "axis": {"values": [0, 100, 200], "tickCount": 12, "format": "d", "offset": -49, "labelPadding": 9.7, "title": null}}}},
    {"data": {"name": "bifr"}, "mark": {"type": "line", "color": "#5b8a2b", "strokeWidth": 1.5},
     "encoding": {"x": {"field": "t", "type": "quantitative"}, "y": {"field": "v", "type": "quantitative"}}},
    {"data": {"values": [{"label": "9.6 s\n12.4 s"}]}, "mark": {"type": "text", "align": "left", "baseline": "middle", "fontSize": 14, "lineBreak": "\n", "lineHeight": 16.3, "font": "Liberation Sans"},
     "encoding": {"x": {"datum": 11.33}, "y": {"datum": 185.3}, "text": {"field": "label"}}}]},
  {"width": 365, "height": 69.5, "title": {"text": "Bii", "offset": -1, "dx": 11.7}, "layer": [
    {"data": {"name": "stim"}, "mark": {"type": "rule", "color": "#b5b5b5", "strokeWidth": 2.8},
     "encoding": {"x": {"field": "t", "type": "quantitative", "scale": {"domain": [0, 85], "range": [61, 355], "nice": false, "zero": false}, "axis": null}}},
    {"data": {"name": "biipos"}, "mark": {"type": "line", "color": "#f0c3b6", "strokeWidth": 9, "strokeJoin": "round"},
     "encoding": {"x": {"field": "t", "type": "quantitative"},
       "y": {"field": "v", "type": "quantitative", "scale": {"domain": [-1, 1], "range": [56.3, 10.7], "nice": false, "zero": false}, "axis": {"values": [-1, 0, 1], "tickCount": 12, "format": "~g", "labelOverlap": false, "offset": -51.7, "labelPadding": 12.4, "title": null}}}},
    {"data": {"name": "biipos"}, "mark": {"type": "line", "color": "#b03a1c", "strokeWidth": 1.5},
     "encoding": {"x": {"field": "t", "type": "quantitative"}, "y": {"field": "v", "type": "quantitative"}}}]},
  {"width": 365, "height": 4, "data": {"name": "sweep"}, "mark": {"type": "rect"},
   "encoding": {"x": {"field": "t0", "type": "quantitative", "scale": {"domain": [0, 85], "range": [61, 355], "nice": false, "zero": false}, "axis": null}, "x2": {"field": "t1"},
     "color": {"field": "s", "type": "nominal", "scale": {"domain": ["first", "second"], "range": ["#1c1c1c", "#808080"]}, "legend": null}}},
  {"width": 365, "height": 92.5, "layer": [
    {"data": {"name": "stim"}, "mark": {"type": "rule", "color": "#b5b5b5", "strokeWidth": 2.8},
     "encoding": {"x": {"field": "t", "type": "quantitative", "scale": {"domain": [0, 85], "range": [61, 355], "nice": false, "zero": false}, "axis": {"values": [0, 10, 20, 30, 40, 50, 60, 70, 80], "tickCount": 12, "format": "d", "offset": 10, "labelPadding": 6.5, "title": "Time (s)", "titlePadding": 13.5}}}},
    {"data": {"name": "biifr"}, "mark": {"type": "line", "color": "#c8dfa3", "strokeWidth": 6, "strokeJoin": "round"},
     "encoding": {"x": {"field": "t", "type": "quantitative"},
       "y": {"field": "v", "type": "quantitative", "scale": {"domain": [0, 150], "range": [88.2, 10.5], "nice": false, "zero": false}, "axis": {"values": [0, 50, 100, 150], "tickCount": 12, "format": "d", "labelOverlap": false, "offset": -51.7, "labelPadding": 12.4, "title": null}}}},
    {"data": {"name": "biifr"}, "mark": {"type": "line", "color": "#5b8a2b", "strokeWidth": 1.5},
     "encoding": {"x": {"field": "t", "type": "quantitative"}, "y": {"field": "v", "type": "quantitative"}}}]},
  {"width": 365, "height": 131.8, "title": {"text": "Biii", "offset": -73.3, "dx": 11.7}, "data": {"name": "biiipos"},
   "mark": {"type": "line", "strokeWidth": 1.6},
   "encoding": {
     "x": {"field": "t", "type": "quantitative", "scale": {"domain": [0, 42.5], "range": [62.7, 357], "nice": false, "zero": false}, "axis": null},
     "y": {"field": "v", "type": "quantitative", "scale": {"domain": [-1, 1], "range": [123.7, 87.3], "nice": false, "zero": false}, "axis": {"values": [-1, 0, 1], "tickCount": 12, "format": "~g", "labelOverlap": false, "offset": -50.7, "labelPadding": 11.4, "title": null}},
     "color": {"field": "s", "type": "nominal", "scale": {"domain": ["b", "g"], "range": ["#000000", "#8c8c8c"]}, "legend": null}}},
  {"width": 365, "height": 161.2, "data": {"name": "biiifr"},
   "mark": {"type": "line", "strokeWidth": 1.3},
   "encoding": {
     "x": {"field": "t", "type": "quantitative", "scale": {"domain": [0, 42.5], "range": [62.7, 357], "nice": false, "zero": false}, "axis": {"values": [0, 10, 20, 30, 40], "tickCount": 12, "format": "d", "offset": -62, "labelPadding": 12, "title": "Time (s)", "titlePadding": 7}},
     "y": {"field": "v", "type": "quantitative", "scale": {"domain": [0, 150], "range": [85.5, 6.9], "nice": false, "zero": false}, "axis": {"values": [0, 50, 100, 150], "tickCount": 12, "format": "d", "offset": -50.7, "labelPadding": 11.4, "title": null}},
     "color": {"field": "s", "type": "nominal", "scale": {"domain": ["b", "g"], "range": ["#000000", "#8c8c8c"]}, "legend": null}}},
  {"width": 365, "height": 175, "title": {"text": "Biv", "offset": 6.7, "dx": 11.7}, "data": {"name": "biv"},
   "layer": [
    {"mark": {"type": "line", "fill": "#e2ecd2", "stroke": "#5a5a5a", "strokeWidth": 1},
     "encoding": {
       "x": {"field": "a", "type": "quantitative", "scale": {"domain": [-1.5, 1.5], "range": [58.3, 228.3], "nice": false, "zero": false}, "axis": {"values": [-1.5, -1, -0.5, 0, 0.5, 1, 1.5], "tickCount": 12, "format": "~g", "offset": -37.3, "labelPadding": 9, "title": "Angular position (deg)", "titlePadding": 8}},
       "y": {"field": "r", "type": "quantitative", "scale": {"domain": [25, 125], "range": [130, 7.7], "nice": false, "zero": false}, "axis": {"values": [25, 50, 75, 100, 125], "tickCount": 12, "format": "d", "offset": -51.7, "labelPadding": 12.4, "title": null}},
       "order": {"field": "o", "type": "quantitative"}}},
    {"mark": {"type": "rule", "color": "#555555", "strokeWidth": 1},
     "encoding": {"x": {"field": "a", "type": "quantitative"}, "y": {"field": "lo", "type": "quantitative"}, "y2": {"field": "hi"}}},
    {"mark": {"type": "tick", "orient": "horizontal", "size": 5, "thickness": 1, "color": "#555555", "opacity": 1},
     "encoding": {"x": {"field": "a", "type": "quantitative"}, "y": {"field": "lo", "type": "quantitative"}}},
    {"mark": {"type": "tick", "orient": "horizontal", "size": 5, "thickness": 1, "color": "#555555", "opacity": 1},
     "encoding": {"x": {"field": "a", "type": "quantitative"}, "y": {"field": "hi", "type": "quantitative"}}},
    {"mark": {"type": "circle", "size": 22, "stroke": "#333333", "strokeWidth": 0.8, "opacity": 1},
     "encoding": {"x": {"field": "a", "type": "quantitative"}, "y": {"field": "r", "type": "quantitative"},
       "fill": {"field": "o", "type": "ordinal", "scale": {"range": ["#000000", "#1a1a1a", "#333333", "#4d4d4d", "#666666", "#808080", "#999999", "#b3b3b3", "#cccccc", "#e6e6e6", "#ffffff"]}, "legend": null}}},
    {"data": {"values": [{"label": "Area=15.4 Hz-deg"}]}, "mark": {"type": "text", "align": "left", "baseline": "middle", "fontSize": 13.5, "font": "Liberation Sans"},
     "encoding": {"x": {"datum": -1.35}, "y": {"datum": 118.8}, "text": {"field": "label"}}}]}
 ]}
]
}
